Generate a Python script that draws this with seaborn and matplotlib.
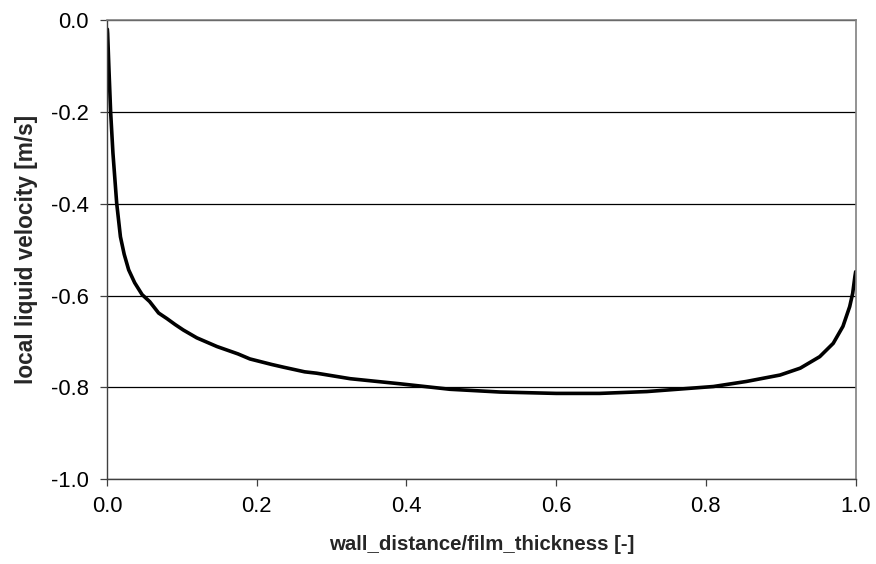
import matplotlib
matplotlib.use("Agg")
import matplotlib.pyplot as plt
import seaborn as sns
import pandas as pd

wall_distance = [0.0005, 0.0009, 0.0027, 0.0049, 0.008, 0.013, 0.018, 0.023, 0.029,
                 0.037, 0.047, 0.057, 0.069, 0.080, 0.091, 0.102, 0.120, 0.147,
                 0.175, 0.191, 0.220, 0.236, 0.264, 0.280, 0.325, 0.391, 0.458,
                 0.525, 0.600, 0.658, 0.721, 0.810, 0.854, 0.899, 0.926, 0.952,
                 0.970, 0.983, 0.992, 0.996, 0.999, 1.000]
velocity = [-0.020, -0.029, -0.109, -0.200, -0.290, -0.399, -0.472, -0.510, -0.544,
            -0.572, -0.598, -0.613, -0.638, -0.650, -0.663, -0.675, -0.692, -0.711,
            -0.727, -0.738, -0.750, -0.756, -0.766, -0.769, -0.781, -0.792, -0.804,
            -0.810, -0.813, -0.813, -0.809, -0.798, -0.787, -0.773, -0.758, -0.733,
            -0.704, -0.667, -0.624, -0.595, -0.558, -0.548]
x_ticks = [0.0, 0.2, 0.4, 0.6, 0.8, 1.0]
y_ticks = [0.0, -0.2, -0.4, -0.6, -0.8, -1.0]

sns.set_style("white")
plt.rcParams['font.family'] = ['Liberation Sans', 'DejaVu Sans']

df = pd.DataFrame({"x": wall_distance, "y": velocity})

fig = plt.figure(figsize=(8.76, 5.64), dpi=100)
ax = fig.add_axes([0.1221, 0.1502, 0.9768 - 0.1221, 0.9645 - 0.1502])

sns.lineplot(data=df, x="x", y="y", ax=ax, color="black", linewidth=2.6, sort=False)
ax.lines[0].set_solid_joinstyle("round")

ax.set_xlim(0, 1)
ax.set_ylim(-1.0, 0.0)
ax.set_xticks(x_ticks)
ax.set_yticks(y_ticks)
ax.set_xticklabels([f"{t:.1f}" for t in x_ticks])
ax.set_yticklabels([f"{t:.1f}" for t in y_ticks])
ax.yaxis.grid(True, color="black", linewidth=0.9)
ax.xaxis.grid(False)
ax.set_axisbelow(True)

ax.tick_params(axis="both", which="major", direction="out", length=5, width=0.9,
               color="#404040", labelsize=15.8, labelcolor="black", bottom=True, left=True)
ax.tick_params(axis="x", pad=7)
ax.tick_params(axis="y", pad=8)

for side in ["left", "bottom"]:
    ax.spines[side].set_color("#404040")
    ax.spines[side].set_linewidth(1.0)
for side in ["top", "right"]:
    ax.spines[side].set_color("#808080")
    ax.spines[side].set_linewidth(1.2)

ax.set_xlabel("wall_distance/film_thickness [-]", fontsize=14.7, fontweight="bold", labelpad=13)
ax.set_ylabel("local liquid velocity [m/s]", fontsize=16.3, fontweight="bold", labelpad=9)

fig.savefig("out.png", dpi=100)
